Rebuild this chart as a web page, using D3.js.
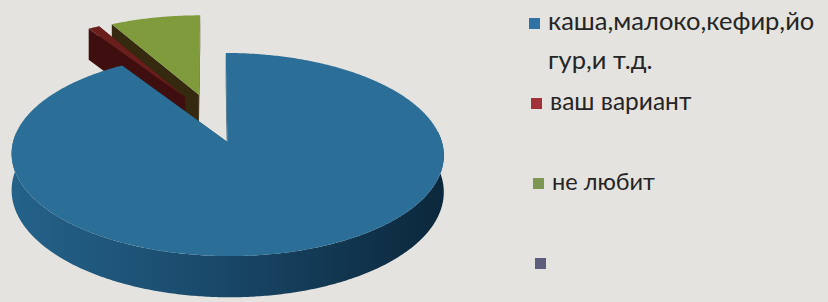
<!DOCTYPE html>
<html><head><meta charset="utf-8">
<script src="https://cdn.jsdelivr.net/npm/d3@7"></script>
<style>html,body{margin:0;padding:0;background:#e4e3df;} svg{display:block}</style>
</head><body>
<svg id="c" width="828" height="302"></svg>
<script>
// ---- data ----
const categories = ["каша,малоко,кефир,йогур,и т.д.", "ваш вариант", "не любит", ""];
const values = [91, 1, 8, 0];
const legendLines = [["каша,малоко,кефир,йо", "гур,и т.д."], ["ваш вариант"], ["не любит"], [""]];
const topColors = ["#2b6f98", "#6b1f1d", "#7f9b3b", "#5e5e7e"];
const cutColors = ["#1c4a68", "#3e0f0e", "#35290f", "#333344"];
const legendColors = ["#2e73a3", "#a3313a", "#7e9853", "#5d5d7c"];

// ---- geometry (3D pie projection) ----
const X0 = 211.9, Y0 = 117.75, K = 94.1, persp = 0.12, D = 35, explode = 0.26;
const rScale = d3.scaleLinear().domain([0, 1]).range([0, 208]);
const R = rScale(1);

function P(u, v, z) {
  const w = 1 + persp * v;
  return [X0 + R * u / w, Y0 - K * v / w + z * D / w];
}

const svg = d3.select("#c");
const defs = svg.append("defs");
const g1 = defs.append("linearGradient").attr("id", "sideBlue")
  .attr("gradientUnits", "userSpaceOnUse").attr("x1", 10).attr("x2", 445).attr("y1", 0).attr("y2", 0);
g1.append("stop").attr("offset", 0).attr("stop-color", "#24628a");
g1.append("stop").attr("offset", 0.45).attr("stop-color", "#1a4a6b");
g1.append("stop").attr("offset", 1).attr("stop-color", "#0b273b");

const pie = d3.pie().sort(null).value(d => d).startAngle(0).endAngle(2 * Math.PI);
const arcs = pie(values).map((a, i) => {
  const mid = (a.startAngle + a.endAngle) / 2;
  return { ...a, i, cu: explode * Math.sin(mid), cv: explode * Math.cos(mid) };
}).filter(a => a.endAngle - a.startAngle > 1e-6);

// back slices first
arcs.sort((p, q) => q.cv - p.cv);

const line = d3.line();
function arcPts(a, s, e, z) {
  const n = Math.max(2, Math.ceil((e - s) / 0.01));
  const pts = [];
  for (let k = 0; k <= n; k++) {
    const t = s + (e - s) * k / n;
    pts.push(P(a.cu + Math.sin(t), a.cv + Math.cos(t), z));
  }
  return pts;
}
function cutFace(a, t) {
  const eu = a.cu + Math.sin(t), ev = a.cv + Math.cos(t);
  return line([P(a.cu, a.cv, 0), P(eu, ev, 0), P(eu, ev, 1), P(a.cu, a.cv, 1)]) + "Z";
}

const pieG = svg.append("g");
arcs.forEach(a => {
  const g = pieG.append("g");
  const s = Math.max(a.startAngle, Math.PI / 2 - 0.1), e = Math.min(a.endAngle, 3 * Math.PI / 2 + 0.1);
  if (e > s) {
    const top = arcPts(a, s, e, 0), bot = arcPts(a, s, e, 1).reverse();
    g.append("path").attr("d", line(top.concat(bot)) + "Z")
      .attr("fill", a.i === 0 ? "url(#sideBlue)" : cutColors[a.i]);
  }
  g.append("path").attr("d", cutFace(a, a.startAngle)).attr("fill", cutColors[a.i]);
  g.append("path").attr("d", cutFace(a, a.endAngle)).attr("fill", cutColors[a.i]);
  const tp = [P(a.cu, a.cv, 0)].concat(arcPts(a, a.startAngle, a.endAngle, 0));
  g.append("path").attr("d", line(tp) + "Z").attr("fill", topColors[a.i]);
});

// ---- legend (photo perspective: upper entries appear slightly larger) ----
const legSizes = [25.5, 24.5, 23.5, 23];
const leg = svg.append("g").attr("font-family", "Lato, 'Open Sans', sans-serif").attr("fill", "#252525");
categories.forEach((c, i) => {
  const base = 30 + i * 80;
  const mx = 529 + i * 2;
  leg.append("rect").attr("x", mx).attr("y", base - 12).attr("width", 11).attr("height", 11)
    .attr("fill", legendColors[i]);
  legendLines[i].forEach((t, j) => {
    if (!t) return;
    leg.append("text").attr("x", mx + 19).attr("y", base + j * 39)
      .attr("font-size", legSizes[i]).text(t);
  });
});
</script>
</body></html>
